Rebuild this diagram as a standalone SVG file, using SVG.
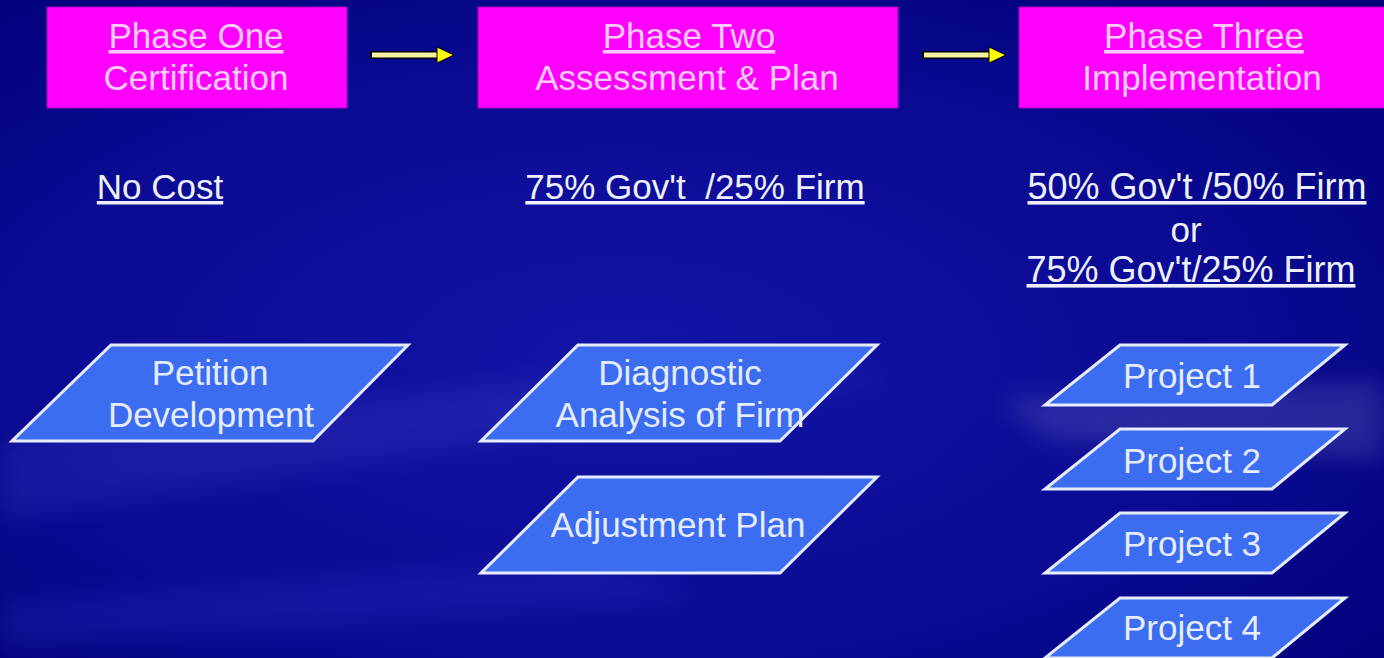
<svg xmlns="http://www.w3.org/2000/svg" width="1384" height="658" viewBox="0 0 1384 658">
<defs>
<radialGradient id="bg" cx="0.45" cy="0.55" r="0.75">
<stop offset="0" stop-color="#1414a6"/>
<stop offset="0.6" stop-color="#0a0a92"/>
<stop offset="1" stop-color="#000078"/>
</radialGradient>
<filter id="blur" x="-0.2" y="-0.5" width="1.4" height="2"><feGaussianBlur stdDeviation="12"/></filter>
<style>
.t{font-family:"Liberation Sans",Arial,sans-serif;font-size:35px;text-anchor:middle}
.ph{fill:#ffccff}
.w{fill:#eef0ff}
.u{text-decoration:underline}
.box{fill:#ff00ff;stroke:#b000c0;stroke-width:1}
.pg{fill:#3c6cf0;stroke:#e8ecff;stroke-width:3}
.pt{fill:#e6ecff}
.sh{stroke:#000000;stroke-width:8;fill:none}
.ln{stroke:#f2f2a0;stroke-width:5;fill:none}
.hd{fill:#ffff00;stroke:#000;stroke-width:1}
</style>
</defs>
<rect width="1384" height="658" fill="url(#bg)"/>
<g opacity="0.12" filter="url(#blur)">
<polygon points="0,440 700,360 900,380 0,520" fill="#8080ff"/>
<polygon points="1000,400 1384,380 1384,460 1050,440" fill="#ffffff"/>
<polygon points="0,600 600,560 700,600 0,650" fill="#6060ff"/>
</g>

<g id="phase1">
<rect class="box" x="47" y="7" width="300" height="101"/>
<text class="t ph u" x="196" y="48">Phase One</text>
<text class="t ph" x="196" y="90">Certification</text>
</g>
<g id="phase2">
<rect class="box" x="478" y="7" width="420" height="101"/>
<text class="t ph u" x="689" y="48">Phase Two</text>
<text class="t ph" x="687" y="90">Assessment &amp; Plan</text>
</g>
<g id="phase3">
<rect class="box" x="1019" y="7" width="380" height="101"/>
<text class="t ph u" x="1204" y="48">Phase Three</text>
<text class="t ph" x="1202" y="90">Implementation</text>
</g>

<g id="cost1"><text class="t w u" x="160" y="199">No Cost</text></g>
<g id="cost2"><text class="t w u" x="695" y="199" xml:space="preserve">75% Gov't  /25% Firm</text></g>
<g id="cost3">
<text class="t w u" x="1197" y="199" style="font-size:36px">50% Gov't /50% Firm</text>
<text class="t w" x="1186" y="242">or</text>
<text class="t w u" x="1191" y="282" style="font-size:36px">75% Gov't/25% Firm</text>
</g>

<g id="petition">
<polygon class="pg" points="111,345 408,345 313,441 12,441"/>
<text class="t pt" x="210" y="385">Petition</text>
<text class="t pt" x="211" y="427">Development</text>
</g>
<g id="diagnostic">
<polygon class="pg" points="578,345 877,345 780,441 481,441"/>
<text class="t pt" x="680" y="385">Diagnostic</text>
<text class="t pt" x="680" y="427">Analysis of Firm</text>
</g>
<g id="adjustment">
<polygon class="pg" points="578,477 877,477 780,573 481,573"/>
<text class="t pt" x="678" y="537">Adjustment Plan</text>
</g>
<g id="project1">
<polygon class="pg" points="1120,345 1345,345 1272,405 1045,405"/>
<text class="t pt" x="1192" y="388">Project 1</text>
</g>
<g id="project2">
<polygon class="pg" points="1120,429 1345,429 1272,489 1045,489"/>
<text class="t pt" x="1192" y="473">Project 2</text>
</g>
<g id="project3">
<polygon class="pg" points="1120,513 1345,513 1272,573 1045,573"/>
<text class="t pt" x="1192" y="556">Project 3</text>
</g>
<g id="project4">
<polygon class="pg" points="1120,598 1345,598 1272,658 1045,658"/>
<text class="t pt" x="1192" y="640">Project 4</text>
</g>

<g id="connectors">
<line class="sh" x1="370" y1="55" x2="440" y2="55"/>
<line class="ln" x1="372" y1="55" x2="440" y2="55"/>
<polygon class="hd" points="437,47 454,55 437,63"/>
<line class="sh" x1="922" y1="55" x2="992" y2="55"/>
<line class="ln" x1="924" y1="55" x2="992" y2="55"/>
<polygon class="hd" points="989,47 1006,55 989,63"/>
</g>
</svg>
